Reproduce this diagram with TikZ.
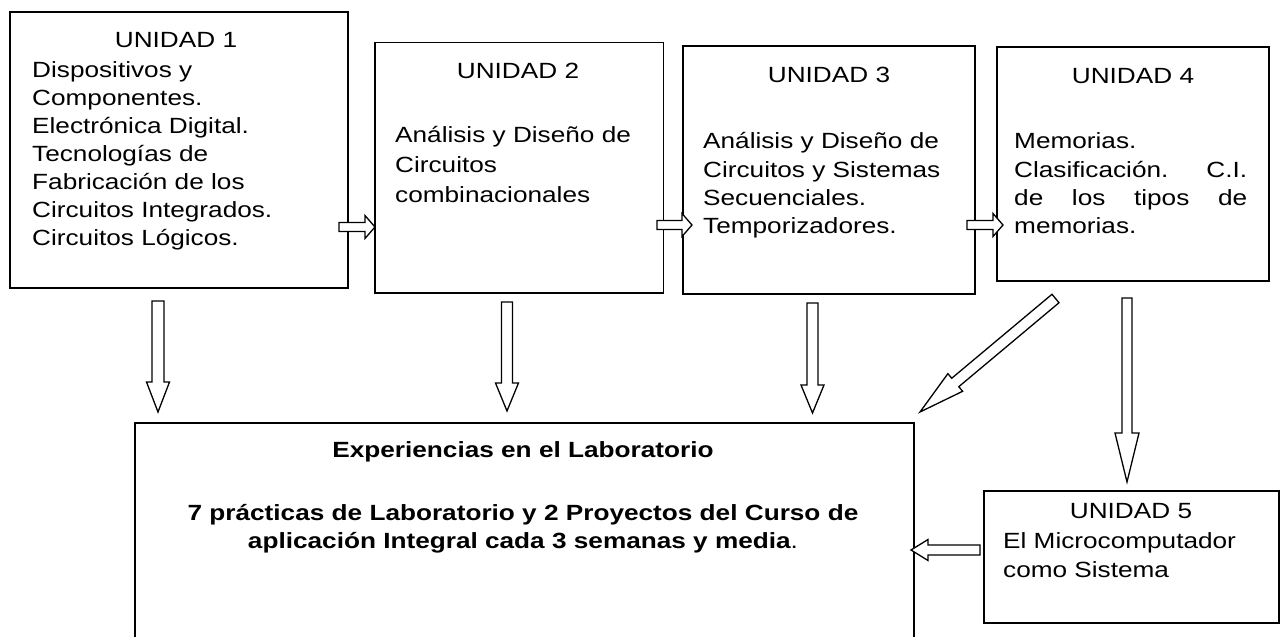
\documentclass[tikz,border=0pt]{standalone}
\usepackage{fontspec}
\setmainfont{Liberation Sans}[FakeStretch=1.19]
\usetikzlibrary{calc}
\tikzset{
  box/.style={draw, line width=1.5pt, rectangle, inner sep=0pt, anchor=north west},
  blk/.style={draw, line width=1.3pt, line join=miter, fill=white},
  ttl/.style={anchor=base, inner sep=0pt},
  txt/.style={anchor=base west, inner sep=0pt},
}
% #1 tail, #2 tip, #3 shaft half width, #4 head half width, #5 head length
\newcommand\blkarrow[5]{%
  \coordinate (bh) at ($(#2)!#5!(#1)$);
  \draw[blk] ($(#1)!#3!90:(#2)$) -- ($(bh)!#3!-90:(#1)$) -- ($(bh)!#4!-90:(#1)$) -- (#2)
    -- ($(bh)!#4!90:(#1)$) -- ($(bh)!#3!90:(#1)$) -- ($(#1)!#3!-90:(#2)$) -- cycle;}
\begin{document}
\begin{tikzpicture}[x=1pt,y=-1pt,font=\fontsize{22}{28}\selectfont]
\path[use as bounding box, fill=white] (0,0) rectangle (1283,637);

% boxes
\node[box, minimum width=338pt, minimum height=276pt] (u1) at (9,11) {};
\node[box, minimum width=288.5pt, minimum height=250.5pt] (u2) at (374,41.5) {};
\node[box, minimum width=292pt, minimum height=248pt] (u3) at (682,45) {};
\node[box, minimum width=272pt, minimum height=234pt] (u4) at (996,46) {};
\node[box, minimum width=779pt, minimum height=220pt] (lab) at (134,422) {};
\node[box, minimum width=295pt, minimum height=132pt] (u5) at (983,490) {};

% unit 1
\node[ttl] (t1) at (176,47) {UNIDAD 1};
\node[txt] (t1a) at (32,77) {Dispositivos y};
\node[txt] (t1b) at (32,105) {Componentes.};
\node[txt] (t1c) at (32,133) {Electrónica Digital.};
\node[txt] (t1d) at (32,161) {Tecnologías de};
\node[txt] (t1e) at (32,189) {Fabricación de los};
\node[txt] (t1f) at (32,217) {Circuitos Integrados.};
\node[txt] (t1g) at (32,245) {Circuitos Lógicos.};

% unit 2
\node[ttl] (t2) at (518,78) {UNIDAD 2};
\node[txt] (t2a) at (395,142) {Análisis y Diseño de};
\node[txt] (t2b) at (395,172) {Circuitos};
\node[txt] (t2c) at (395,202) {combinacionales};

% unit 3
\node[ttl] (t3) at (829,82.5) {UNIDAD 3};
\node[txt] (t3a) at (703,148) {Análisis y Diseño de};
\node[txt] (t3b) at (703,177) {Circuitos y Sistemas};
\node[txt] (t3c) at (703,205) {Secuenciales.};
\node[txt] (t3d) at (703,233) {Temporizadores.};

% unit 4
\node[ttl] (t4) at (1133,83) {UNIDAD 4};
\node[txt] (t4a) at (1014,148) {Memorias.};
\node[txt] (t4b) at (1014,177) {\makebox[233pt][s]{Clasificación. C.I.}};
\node[txt] (t4c) at (1014,205) {\makebox[233pt][s]{de los tipos de}};
\node[txt] (t4d) at (1014,233) {memorias.};

% unit 5
\node[ttl] (t5) at (1131,518) {UNIDAD 5};
\node[txt] (t5a) at (1003,548) {El Microcomputador};
\node[txt] (t5b) at (1003,577) {como Sistema};

% laboratory
\node[ttl] (l1) at (523,457) {\textbf{Experiencias en el Laboratorio}};
\node[ttl] (l2) at (523,520) {\textbf{7 prácticas de Laboratorio y 2 Proyectos del Curso de}};
\node[ttl] (l3) at (523,548) {\textbf{aplicación Integral cada 3 semanas y media}.};

% arrow end points
\coordinate (h1a) at (339,227);   \coordinate (h1b) at (375,227);
\coordinate (h2a) at (657,225);   \coordinate (h2b) at (692,225);
\coordinate (h3a) at (967,225);   \coordinate (h3b) at (1003,225);
\coordinate (v1a) at (158,301);   \coordinate (v1b) at (158,412);
\coordinate (v2a) at (507,302);   \coordinate (v2b) at (507,411);
\coordinate (v3a) at (812.5,303); \coordinate (v3b) at (812.5,413);
\coordinate (v5a) at (1127,298);  \coordinate (v5b) at (1127,482);
\coordinate (dga) at (1055.5,298.5); \coordinate (dgb) at (920,412);
\coordinate (h5a) at (980,550);   \coordinate (h5b) at (911,550);

\blkarrow{h1a}{h1b}{4.5pt}{11.5pt}{10pt}
\blkarrow{h2a}{h2b}{4.5pt}{11.5pt}{10pt}
\blkarrow{h3a}{h3b}{4.5pt}{11.5pt}{10pt}
\blkarrow{v1a}{v1b}{6pt}{11.5pt}{30pt}
\blkarrow{v2a}{v2b}{5.5pt}{11.5pt}{28pt}
\blkarrow{v3a}{v3b}{5.5pt}{11.5pt}{28pt}
\blkarrow{v5a}{v5b}{5pt}{12pt}{49pt}
\blkarrow{dga}{dgb}{5.5pt}{11.5pt}{46pt}
\blkarrow{h5a}{h5b}{5pt}{10.5pt}{17pt}
\end{tikzpicture}
\end{document}
